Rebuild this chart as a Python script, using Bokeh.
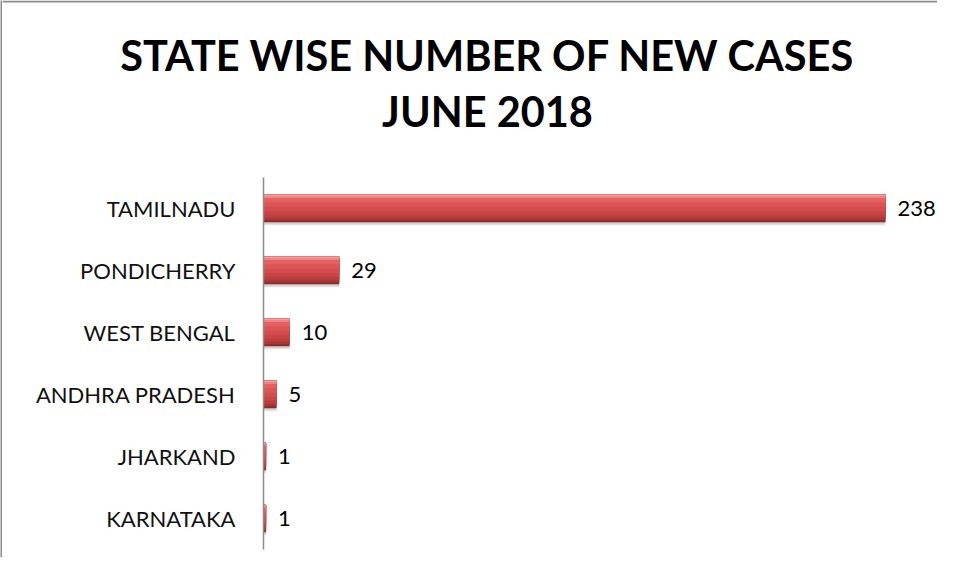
from bokeh.plotting import figure
from bokeh.layouts import column, row
from bokeh.models import Range1d, FactorRange, ColumnDataSource
from bokeh.transform import dodge
from bokeh.core.properties import value
from bokeh.embed import file_html
from bokeh.resources import INLINE

# ---- data ----
states = ["TAMILNADU", "PONDICHERRY", "WEST BENGAL", "ANDHRA PRADESH", "JHARKAND", "KARNATAKA"]
cases = [238, 29, 10, 5, 1, 1]
title_lines = ["STATE WISE NUMBER OF NEW CASES", "JUNE 2018"]

factors = list(reversed(states))
src = ColumnDataSource(dict(state=states, cases=cases, label=[str(c) for c in cases]))

# ---- layout (pixels) ----
BW = 2                   # border width
TOTAL_W, TOTAL_H = 937, 557
W = TOTAL_W - BW
TH = 160                 # title band height
CH = TOTAL_H - TH        # chart figure height
left, right, top, bottom = 263 - BW, 0, 17, 8
frame_w = W - left - right
frame_h = CH - top - bottom
px_per_case = 622.0 / max(cases)
x_end = frame_w / px_per_case

BORDER = "#8c8c8c"

# ---- left border strip ----
s = figure(width=BW, height=TOTAL_H, output_backend="svg", toolbar_location=None,
           min_border=0, x_axis_location=None, y_axis_location=None, title_location=None)
s.frame_align = False
s.grid.visible = False
s.outline_line_color = None
s.background_fill_color = BORDER
s.border_fill_color = BORDER

# ---- title band ----
t = figure(width=W, height=TH, x_range=Range1d(0, W), y_range=Range1d(TH, 0),
           output_backend="svg", toolbar_location=None, title_location=None,
           min_border=0, x_axis_location=None, y_axis_location=None)
t.frame_align = False
t.grid.visible = False
t.outline_line_color = None
t.background_fill_color = "white"
t.border_fill_color = "white"
t.segment(x0=[0], y0=[1], x1=[W], y1=[1], line_color=BORDER, line_width=2)
title_src = ColumnDataSource(dict(x=[487 - BW, 487 - BW], y=[54, 110], text=title_lines))
t.text(x="x", y="y", text="text", source=title_src,
       text_align="center", text_baseline="alphabetic",
       text_font=value("Lato"), text_font_style="bold",
       text_font_size="41.5px", text_color="#000000")

# ---- chart ----
p = figure(width=W, height=CH,
           y_range=FactorRange(factors=factors, range_padding=0),
           x_range=Range1d(0, x_end),
           output_backend="svg", toolbar_location=None, title_location=None,
           min_border_left=left, min_border_right=right,
           min_border_top=top, min_border_bottom=bottom)
p.frame_align = False

p.xaxis.visible = False
p.xgrid.grid_line_color = None
p.ygrid.grid_line_color = None
p.outline_line_color = None
p.background_fill_color = "white"
p.border_fill_color = "white"

ax = p.yaxis[0]
ax.axis_line_color = "#8c8c8c"
ax.axis_line_width = 1.5
ax.major_tick_in = 0
ax.major_tick_out = 0
ax.minor_tick_in = 0
ax.minor_tick_out = 0
ax.major_label_standoff = 28
ax.major_label_text_font = "Lato"
ax.major_label_text_font_size = "22px"
ax.major_label_text_color = "#111111"

yr = p.y_range
# soft shadow under bars
p.hbar(y=dodge("state", -0.06, range=yr), right="cases", left=0, height=0.42, source=src,
       fill_color="#a0a0a0", fill_alpha=0.25, line_color=None)
p.hbar(y=dodge("state", -0.035, range=yr), right="cases", left=0, height=0.44, source=src,
       fill_color="#909090", fill_alpha=0.25, line_color=None)
# bar body built as horizontal bands (dark at bottom, light at top)
bands = [
    (0.000, 0.440, "#8e2c2c"),
    (0.015, 0.410, "#a83636"),
    (0.035, 0.370, "#bb3e3e"),
    (0.060, 0.320, "#c94545"),
    (0.090, 0.260, "#d44c4c"),
    (0.125, 0.190, "#dc5555"),
    (0.160, 0.120, "#e36161"),
    (0.195, 0.050, "#ee8585"),
    (0.213, 0.014, "#f6a6a6"),
]
for off, h, col in bands:
    p.hbar(y=dodge("state", off, range=yr), right="cases", left=0, height=h, source=src,
           fill_color=col, line_color=None)

p.text(x="cases", y="state", text="label", source=src, x_offset=12,
       text_baseline="middle", text_align="left",
       text_font=value("Lato"), text_font_size="22px", text_color="#000000")

layout = row(s, column(t, p, spacing=0), spacing=0)
open("out.html", "w").write(file_html(layout, INLINE))
